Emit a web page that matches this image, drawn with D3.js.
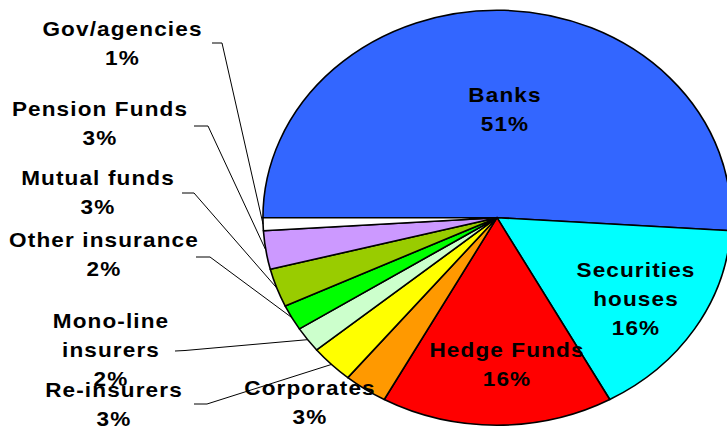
<!DOCTYPE html>
<html>
<head>
<meta charset="utf-8">
<script src="https://cdn.jsdelivr.net/npm/d3@7"></script>
<style>
  html, body { margin: 0; padding: 0; background: #fff; }
  svg { display: block; }
  text { font-family: "Liberation Sans", Arial, sans-serif; font-weight: bold; font-size: 20px; fill: #000; letter-spacing: 1px; }
</style>
</head>
<body>
<svg id="chart" width="727" height="427"></svg>
<script>
// Holders of credit risk, share of total (%)
const categories = ["Banks", "Securities houses", "Hedge Funds", "Corporates", "Re-insurers",
                    "Mono-line insurers", "Other insurance", "Mutual funds", "Pension Funds", "Gov/agencies"];
const shares = [51, 16, 16, 3, 3, 2, 2, 3, 3, 1];
const colors = ["#3366FF", "#00FFFF", "#FF0000", "#FF9900", "#FFFF00",
                "#CCFFCC", "#00FF00", "#99CC00", "#CC99FF", "#FFFFFF"];
// How each category name is broken into lines
const nameLines = [["Banks"], ["Securities", "houses"], ["Hedge Funds"], ["Corporates"], ["Re-insurers"],
                   ["Mono-line", "insurers"], ["Other insurance"], ["Mutual funds"], ["Pension Funds"], ["Gov/agencies"]];

// Layout: the pie is drawn as a circle and stretched horizontally into an ellipse
const W = 727, H = 427;
const cx = 497, cy = 217.7, r = 207.5, sx = 1.128;
const lineGap = 29;
// label anchor: centre x, first baseline y; leader: start of the elbow line (null = no leader)
const labelLayout = [
  { x: 505, y: 102, leader: null },
  { x: 636, y: 277, leader: null },
  { x: 507, y: 357, leader: null },
  { x: 310, y: 395, leader: null },
  { x: 114, y: 397, leader: [[194, 404], [207, 404]] },
  { x: 111, y: 328, leader: [[175, 351], [185, 350.5]] },
  { x: 104, y: 247, leader: [[196, 257], [210, 257]] },
  { x: 98,  y: 185, leader: [[182, 193], [194, 193]] },
  { x: 100, y: 116, leader: [[194, 126], [208, 126]] },
  { x: 122.5, y: 36, leader: [[212, 43], [222, 43]] }
];

const svg = d3.select("#chart");
svg.append("rect").attr("width", W).attr("height", H).attr("fill", "#fff");

const pie = d3.pie().sort(null).value(d => d)
  .startAngle(-Math.PI / 2).endAngle(3 * Math.PI / 2);
const arcs = pie(shares);
const arc = d3.arc().innerRadius(0).outerRadius(r);
const rim = d3.arc().innerRadius(r).outerRadius(r);

const g = svg.append("g").attr("transform", `translate(${cx},${cy}) scale(${sx},1)`);
g.selectAll("path.slice")
  .data(arcs)
  .join("path")
  .attr("class", "slice")
  .attr("d", arc)
  .attr("fill", (d, i) => colors[i])
  .attr("stroke", "#000")
  .attr("stroke-width", 1.6)
  .attr("stroke-linejoin", "round")
  .attr("vector-effect", "non-scaling-stroke");

// leader lines from the outside labels to the rim of their slice
const toScreen = p => [cx + p[0] * sx, cy + p[1]];
const line = d3.line();
svg.append("g").selectAll("path.leader")
  .data(arcs.filter((d, i) => labelLayout[i].leader))
  .join("path")
  .attr("class", "leader")
  .attr("d", d => line([...labelLayout[d.index].leader, toScreen(rim.centroid(d))]))
  .attr("fill", "none")
  .attr("stroke", "#000")
  .attr("stroke-width", 1);

// category and percentage labels
const labels = svg.append("g");
arcs.forEach((d, i) => {
  const L = labelLayout[i];
  const rows = [...nameLines[i], `${shares[i]}%`];
  const t = labels.append("text")
    .attr("text-anchor", "middle")
    .attr("transform", `translate(${L.x},${L.y}) scale(${sx},1)`);
  rows.forEach((s, k) => {
    t.append("tspan").attr("x", 0).attr("y", k * lineGap).text(s);
  });
});
</script>
</body>
</html>
